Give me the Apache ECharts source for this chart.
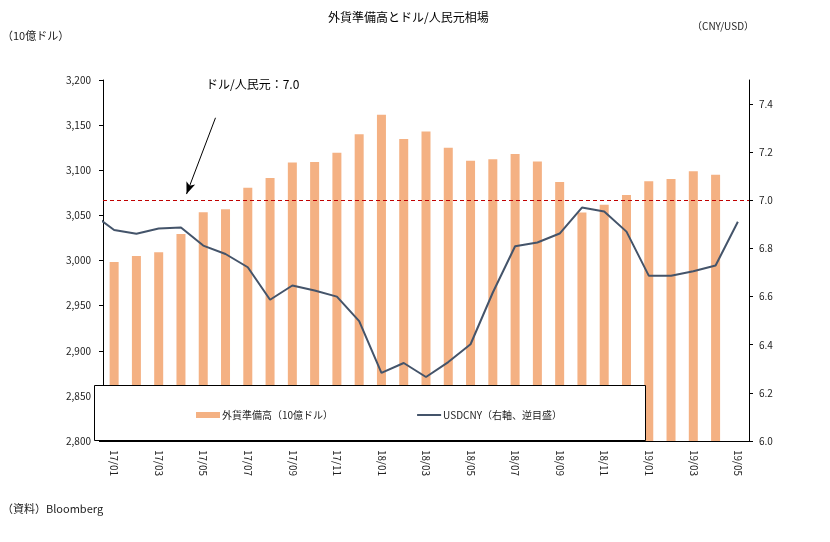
<!DOCTYPE html>
<html>
<head>
<meta charset="utf-8">
<script src="https://cdn.jsdelivr.net/npm/echarts@6/dist/echarts.min.js"></script>
<style>
html,body{margin:0;padding:0;background:#fff;}
#chart{width:830px;height:542px;}
</style>
</head>
<body>
<div id="chart"></div>
<script>
const categories = ['17/01','17/02','17/03','17/04','17/05','17/06','17/07','17/08','17/09','17/10','17/11','17/12',
  '18/01','18/02','18/03','18/04','18/05','18/06','18/07','18/08','18/09','18/10','18/11','18/12',
  '19/01','19/02','19/03','19/04','19/05'];
const reserves = [2998.2, 3005.1, 3009.1, 3029.5, 3053.6, 3056.8, 3080.7, 3091.5, 3108.5, 3109.2, 3119.3, 3139.9,
  3161.5, 3134.5, 3142.8, 3124.9, 3110.6, 3112.1, 3117.9, 3109.7, 3087.0, 3053.1, 3061.7, 3072.7,
  3087.9, 3090.2, 3098.8, 3094.9, null];
const usdcnyPrev = 6.945; // 16/12, clipped at the left edge
const usdcny = [6.877, 6.861, 6.883, 6.887, 6.812, 6.777, 6.722, 6.587, 6.646, 6.625, 6.600, 6.498,
  6.283, 6.324, 6.266, 6.328, 6.402, 6.617, 6.809, 6.825, 6.862, 6.970, 6.954, 6.870,
  6.687, 6.687, 6.705, 6.729, 6.911];
const leftTicks = [2800, 2850, 2900, 2950, 3000, 3050, 3100, 3150, 3200];
const rightTicks = [6.0, 6.2, 6.4, 6.6, 6.8, 7.0, 7.2, 7.4];
const refLevel = 7.0;

const FONT = '"Noto Sans CJK JP", "Noto Sans", sans-serif';
const lineData = [[-0.5, usdcnyPrev]].concat(usdcny.map((v, i) => [i + 0.5, v]));

const chart = echarts.init(document.getElementById('chart'));
chart.setOption({
  backgroundColor: '#fff',
  animation: false,
  textStyle: { fontFamily: FONT },
  grid: { left: 103, right: 81, top: 80, bottom: 101, containLabel: false, outerBoundsMode: 'none' },
  xAxis: [{
    type: 'category',
    data: categories,
    boundaryGap: true,
    axisLine: { lineStyle: { color: '#000', width: 1 } },
    axisTick: { interval: 1, length: 4, lineStyle: { color: '#000' } },
    axisLabel: { interval: 1, rotate: -90, color: '#222', fontSize: 10, fontFamily: FONT, margin: 9 },
    splitLine: { show: false }
  }, {
    type: 'value',
    min: 0, max: 29,
    show: false,
    position: 'top'
  }],
  yAxis: [{
    type: 'value',
    min: 2800, max: 3200, interval: 50,
    axisLine: { show: true, lineStyle: { color: '#000', width: 1 } },
    axisTick: { show: true, length: 4, lineStyle: { color: '#000' } },
    axisLabel: { color: '#222', fontSize: 10, fontFamily: FONT, margin: 12,
      formatter: v => v.toLocaleString('en-US') },
    splitLine: { show: false }
  }, {
    type: 'value',
    min: 6.0, max: 7.5, interval: 0.2,
    position: 'right',
    axisLine: { show: true, lineStyle: { color: '#000', width: 1 } },
    axisTick: { show: true, length: 4, customValues: rightTicks, lineStyle: { color: '#000' } },
    axisLabel: { color: '#222', fontSize: 10, fontFamily: FONT, margin: 10,
      customValues: rightTicks, formatter: v => Number(v).toFixed(1) },
    splitLine: { show: false }
  }],
  legend: {
    left: 191, top: 405,
    z: 20,
    itemWidth: 24, itemHeight: 6,
    itemGap: 84,
    textStyle: { fontSize: 10, color: '#222', fontFamily: FONT, padding: [0, 0, 0, -3] },
    data: [
      { name: '外貨準備高（10億ドル）', icon: 'rect' },
      { name: 'USDCNY（右軸、逆目盛）', icon: 'path://M0,0 L24,0 L24,2 L0,2 Z' }
    ]
  },
  graphic: [
    { type: 'rect', z: 10, shape: { x: 94.5, y: 385.5, width: 551, height: 55 },
      style: { fill: '#fff', stroke: '#000', lineWidth: 1 } },
    { type: 'text', left: 328, top: 11, style: { text: '外貨準備高とドル/人民元相場', fill: '#000', font: '12px ' + FONT } },
    { type: 'text', left: 692, top: 21, style: { text: '（CNY/USD）', fill: '#222', font: '10px ' + FONT } },
    { type: 'text', left: 2, top: 30, style: { text: '（10億ドル）', fill: '#222', font: '11px ' + FONT } },
    { type: 'text', left: 2, top: 503, style: { text: '（資料）Bloomberg', fill: '#222', font: '11px ' + FONT } },
    { type: 'text', left: 206, top: 78, style: { text: 'ドル/人民元：7.0', fill: '#000', font: '12px ' + FONT } }
  ],
  series: [{
    name: '外貨準備高（10億ドル）',
    type: 'bar',
    xAxisIndex: 0, yAxisIndex: 0,
    data: reserves,
    barWidth: 9,
    itemStyle: { color: '#F4B183' },
    z: 2
  }, {
    name: 'USDCNY（右軸、逆目盛）',
    type: 'line',
    xAxisIndex: 1, yAxisIndex: 1,
    data: lineData,
    symbol: 'none',
    clip: true,
    lineStyle: { color: '#44546A', width: 2 },
    itemStyle: { color: '#44546A' },
    z: 3,
    markLine: {
      silent: true,
      animation: false,
      label: { show: false },
      data: [
        [{ xAxis: 0, yAxis: refLevel, symbol: 'none', lineStyle: { color: '#C00000', type: [4, 3], width: 1 } },
         { xAxis: 29, yAxis: refLevel, symbol: 'none' }],
        [{ coord: [5.05, 7.343], symbol: 'none', lineStyle: { color: '#000', type: 'solid', width: 1 } },
         { coord: [3.75, 7.026], symbol: 'arrow', symbolSize: [7, 12] }]
      ]
    }
  }]
});
</script>
</body>
</html>
